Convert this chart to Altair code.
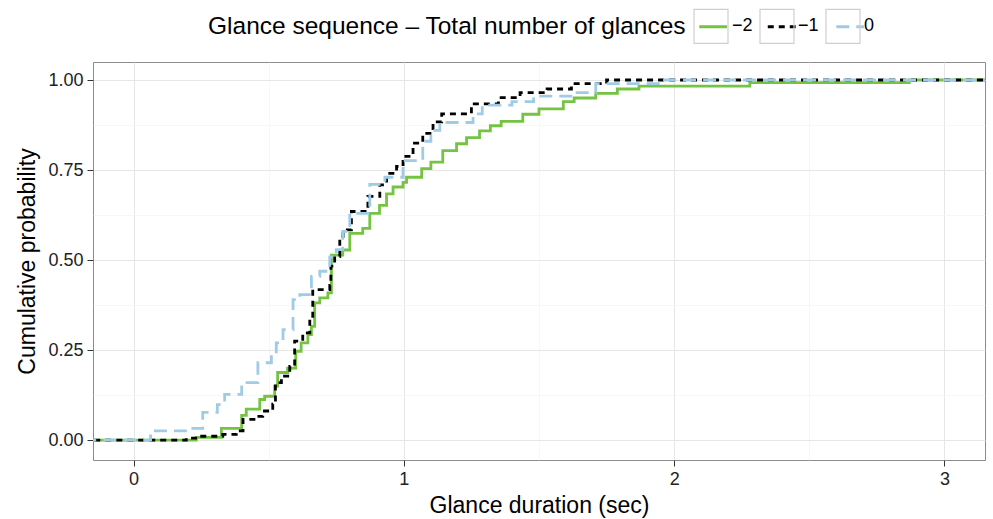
import altair as alt
import pandas as pd

# Series labels (legend order)
series = ["\u22122", "\u22121", "0"]
colors = ["#74C343", "#000000", "#9FCBE6"]
dashes = [[1, 0], [6, 5], [13, 7]]

# ECDF step points (x = glance duration, y = cumulative probability)
x_m2 = [-1, 0.232, 0.325, 0.40, 0.417, 0.467, 0.485, 0.522, 0.533, 0.57, 0.60, 0.62, 0.645,
        0.658, 0.67, 0.689, 0.719, 0.732, 0.774, 0.80, 0.848, 0.874, 0.91, 0.936, 0.96, 0.997,
        1.01, 1.066, 1.10, 1.144, 1.195, 1.232, 1.28, 1.32, 1.36, 1.44, 1.50, 1.59, 1.63, 1.71,
        1.79, 1.87, 2.28, 2.87, 4]
y_m2 = [0, 0.008, 0.033, 0.069, 0.086, 0.113, 0.122, 0.15, 0.188, 0.2, 0.247, 0.27, 0.293,
        0.316, 0.381, 0.395, 0.409, 0.514, 0.528, 0.574, 0.588, 0.63, 0.652, 0.684, 0.703, 0.716,
        0.73, 0.754, 0.772, 0.804, 0.823, 0.84, 0.859, 0.873, 0.885, 0.905, 0.92, 0.94, 0.95, 0.963,
        0.975, 0.983, 0.993, 1.0, 1.0]

x_m1 = [-1, 0.195, 0.244, 0.33, 0.38, 0.405, 0.454, 0.478, 0.515, 0.525, 0.547, 0.578, 0.596,
        0.626, 0.652, 0.663, 0.726, 0.73, 0.744, 0.763, 0.775, 0.806, 0.867, 0.911, 0.936, 0.973,
        0.997, 1.034, 1.07, 1.108, 1.14, 1.25, 1.35, 1.43, 1.53, 1.62, 1.75, 4]
y_m1 = [0, 0.006, 0.011, 0.016, 0.026, 0.058, 0.066, 0.081, 0.1, 0.16, 0.178, 0.205, 0.275,
        0.298, 0.344, 0.418, 0.43, 0.483, 0.51, 0.566, 0.584, 0.635, 0.677, 0.709, 0.741, 0.76,
        0.788, 0.825, 0.852, 0.884, 0.906, 0.934, 0.951, 0.965, 0.975, 0.99, 1.0, 1.0]

x_0 = [-1, 0.063, 0.21, 0.256, 0.31, 0.337, 0.40, 0.46, 0.51, 0.528, 0.553, 0.59, 0.615, 0.658,
       0.689, 0.726, 0.75, 0.774, 0.80, 0.874, 0.93, 0.997, 1.07, 1.10, 1.133, 1.256, 1.29, 1.40,
       1.48, 1.63, 1.71, 1.95, 4]
y_0 = [0, 0.026, 0.033, 0.077, 0.099, 0.127, 0.16, 0.215, 0.232, 0.27, 0.307, 0.39, 0.404, 0.455,
       0.469, 0.509, 0.529, 0.58, 0.63, 0.71, 0.73, 0.776, 0.83, 0.86, 0.882, 0.906, 0.93, 0.94,
       0.955, 0.965, 0.99, 1.0, 1.0]

x_ticks = [0, 1, 2, 3]
x_minor = [0.5, 1.5, 2.5]
y_ticks = [0, 0.25, 0.5, 0.75, 1.0]
y_minor = [0.125, 0.375, 0.625, 0.875]

LEGEND_TITLE = "Glance sequence \u2013 Total number of glances"

frames = []
for name, xs, ys in zip(series, [x_m2, x_m1, x_0], [y_m2, y_m1, y_0]):
    frames.append(pd.DataFrame({"dur": xs, "cp": ys, "seq": name, "key": "k" + name}))
df = pd.concat(frames, ignore_index=True)
box_keys = ["k" + s for s in series]

FONT = "Liberation Sans"
xscale = alt.Scale(domain=[-0.15, 3.15], nice=False, zero=False)
yscale = alt.Scale(domain=[-0.055, 1.05], nice=False, zero=False)

# Legend layout: boxed keys (with title and labels) + line keys drawn inside the boxes
LX, LY = 115, -54
TITLE_FS = 24.5
TITLE_W = 19.621 * TITLE_FS      # advance width of the title in Liberation Sans
TITLE_PAD = 6
LABEL_W = 20.5                    # width of "−2" / "−1" at 18px
SYM = 1156
COLPAD = 4
LOFF = 3

label_map = "{'k\u22122': '\u22122', 'k\u22121': '\u22121', 'k0': '0'}[datum.label]"
box_enc = alt.Shape("key:N", scale=alt.Scale(domain=box_keys, range=["square"] * 3),
                    legend=alt.Legend(title=LEGEND_TITLE, orient="none", legendX=LX, legendY=LY,
                                      direction="horizontal", titleOrient="left",
                                      titleFontSize=TITLE_FS, titleFont=FONT,
                                      titleFontWeight="normal", titleColor="#000000",
                                      titlePadding=TITLE_PAD, titleLimit=900,
                                      labelFontSize=18, labelFont=FONT, labelColor="#000000",
                                      labelExpr=label_map, labelOffset=LOFF, columnPadding=COLPAD,
                                      symbolType="square", symbolSize=SYM,
                                      symbolStrokeColor="#CFCFCF", symbolFillColor="transparent",
                                      symbolStrokeWidth=1.2, symbolOpacity=1))

color_enc = alt.Color("seq:N", scale=alt.Scale(domain=series, range=colors),
                      legend=alt.Legend(title=None, orient="none",
                                        legendX=LX + TITLE_W + TITLE_PAD, legendY=LY,
                                        direction="horizontal", labelExpr="''",
                                        labelOffset=0, columnPadding=COLPAD + LOFF + LABEL_W,
                                        symbolType="M-0.82,0H0.82", symbolSize=SYM,
                                        symbolStrokeWidth=3))
dash_enc = alt.StrokeDash("seq:N", scale=alt.Scale(domain=series, range=dashes), legend=None)

layers = []
for i, name in enumerate(series):
    layers.append(
        alt.Chart(df).transform_filter(alt.datum.seq == name).mark_line(
            interpolate="step-after", strokeWidth=2.8, clip=True, strokeCap="butt"
        ).encode(
            x=alt.X("dur:Q", scale=xscale,
                    axis=alt.Axis(values=x_ticks, format="d", title="Glance duration (sec)",
                                  grid=True, gridColor="#E6E6E6", gridWidth=1)),
            y=alt.Y("cp:Q", scale=yscale,
                    axis=alt.Axis(values=y_ticks, format=".2f", title="Cumulative probability",
                                  grid=True, gridColor="#E6E6E6", gridWidth=1)),
            color=color_enc,
            strokeDash=dash_enc,
            order=alt.value(i),
        )
    )

main = alt.layer(*layers)

minor = alt.Chart(df).mark_point(opacity=0, filled=False).encode(
    x=alt.X("dur:Q", scale=xscale, axis=alt.Axis(values=x_minor, grid=True, gridColor="#F3F3F3",
                                                 gridWidth=0.7, labels=False, ticks=False,
                                                 domain=False, title=None)),
    y=alt.Y("cp:Q", scale=yscale, axis=alt.Axis(values=y_minor, grid=True, gridColor="#F3F3F3",
                                                gridWidth=0.7, labels=False, ticks=False,
                                                domain=False, title=None)),
    shape=box_enc,
)

chart = alt.layer(main, minor).resolve_axis(x="independent", y="independent").properties(
    width=892, height=398,
    autosize=alt.AutoSizeParams(type="none"),
    padding={"left": 93, "top": 62, "right": 8, "bottom": 59},
).configure_view(stroke="#8C8C8C", strokeWidth=1).configure_axis(
    labelFont=FONT, titleFont=FONT, labelFontSize=18, titleFontSize=23,
    labelColor="#222222", titleColor="#000000", titleFontWeight="normal",
    domain=False, tickColor="#333333", tickSize=6, labelPadding=4,
).configure_axisX(titlePadding=6).configure_axisY(titlePadding=8)

chart.save("out.html", embed_options={"renderer": "svg", "actions": False})
